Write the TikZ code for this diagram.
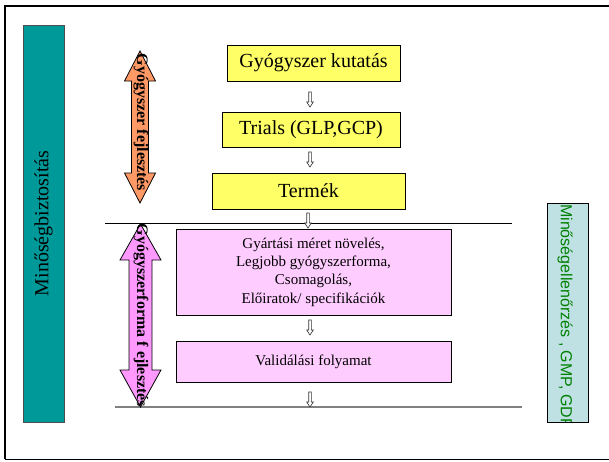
\documentclass[tikz,border=0pt]{standalone}
\usepackage{fontspec}
\setmainfont{Liberation Serif}
\newfontfamily\arialf{Liberation Sans}
\usetikzlibrary{calc}
\definecolor{tealbox}{RGB}{0,153,153}
\definecolor{ybox}{RGB}{255,255,102}
\definecolor{pbox}{RGB}{255,204,255}
\definecolor{orarrow}{RGB}{255,153,102}
\definecolor{pkarrow}{RGB}{255,153,255}
\definecolor{gbox}{RGB}{191,225,227}
\definecolor{gtext}{RGB}{0,128,0}
\tikzset{
  yellowbox/.style={draw=black, line width=0.8pt, fill=ybox, inner sep=0pt, font=\fontsize{20}{24}\selectfont},
  pinkbox/.style={draw=black, line width=0.8pt, fill=pbox, inner sep=0pt, align=center, font=\fontsize{15}{18.3}\selectfont},
  sidebox/.style={line width=0.8pt, inner sep=0pt},
  arrowlabel/.style={rotate=-90, inner sep=0pt, font=\fontsize{16}{19}\selectfont\bfseries},
  harrow/.pic={\draw[line width=0.6pt, draw=black!80, fill=white] (-1.3,-7.5) -- (1.3,-7.5) -- (1.3,2.5) -- (3.3,2.5) -- (0,7.5) -- (-3.3,2.5) -- (-1.3,2.5) -- cycle;}
}
\begin{document}
\begin{tikzpicture}[x=1pt, y=-1pt]
\useasboundingbox (0,0) rectangle (609,461);
% outer frame
\draw[line width=2pt] (609,5.5) -- (5,5.5) -- (5,459);
\draw[line width=1pt] (5,459) -- (609,459);
% left teal box
\node[sidebox, draw=black!70, fill=tealbox, minimum width=41pt, minimum height=397pt] (qa) at (43.5,223.5) {};
\node[rotate=90, font=\fontsize{20}{24}\selectfont, inner sep=0pt] (qat) at (qa.center) {Minőségbiztosítás};
% right green box
\node[sidebox, draw=black, fill=gbox, minimum width=41pt, minimum height=219pt] (qc) at (567.5,312.5) {};
\begin{scope}
\clip (547,203) rectangle (588,421.5);
\node[rotate=-90, anchor=west, inner sep=0pt, text=gtext, font=\arialf\fontsize{16}{19}\selectfont] (qct) at (565,204) {Minőségellenőrzés , GMP, GDP};
\end{scope}
% yellow boxes
\node[yellowbox, minimum width=173pt, minimum height=36pt] (y1) at (313.5,63) {Gyógyszer kutatás};
\node[yellowbox, minimum width=178pt, minimum height=35pt] (y2) at (311,129.5) {Trials (GLP,GCP)};
\node[yellowbox, minimum width=193pt, minimum height=36pt] (y3) at (308.5,191) {Termék};
% separator lines
\coordinate (l1a) at (105,223);
\coordinate (l1b) at (512,223);
\coordinate (l2a) at (115,407);
\coordinate (l2b) at (522,407);
\draw[line width=0.8pt] (l1a) -- (l1b);
\draw[line width=1.3pt, draw=black!50] (l2a) -- (l2b);
% pink boxes
\node[pinkbox, minimum width=275pt, minimum height=86pt] (p1) at (313.5,272) {Gyártási méret növelés,\\Legjobb gyógyszerforma,\\Csomagolás,\\Előiratok/ specifikációk};
\node[pinkbox, minimum width=275pt, minimum height=41pt] (p2) at (313.5,361.5) {Validálási folyamat};
% small arrows
\pic at (310,99.5) {harrow};
\pic at (310,159.5) {harrow};
\pic at (308,220.5) {harrow};
\pic at (310,327.5) {harrow};
\pic at (310,399.5) {harrow};
% orange double arrow
\draw[line width=0.8pt, fill=orarrow] (140,51) -- (155.5,81) -- (148.5,81) -- (148.5,173) -- (155.5,173) -- (140,203) -- (124.5,173) -- (131.5,173) -- (131.5,81) -- (124.5,81) -- cycle;
\node[arrowlabel] (oal) at (141,122.5) {Gyógyszer fejlesztés};
% pink double arrow
\draw[line width=0.8pt, fill=pkarrow] (140.5,224) -- (161,260) -- (152,260) -- (152,370) -- (161,370) -- (140.5,407) -- (120,370) -- (129,370) -- (129,260) -- (120,260) -- cycle;
\node[arrowlabel] (pal) at (141,315.5) {Gyógyszerforma f ejlesztés};
\end{tikzpicture}
\end{document}
